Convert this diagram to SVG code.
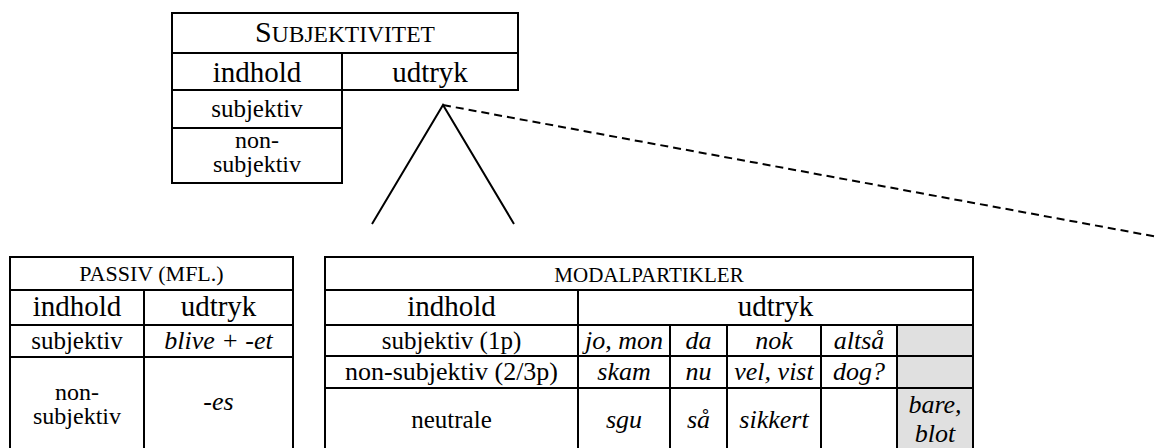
<svg xmlns="http://www.w3.org/2000/svg" width="1158" height="448" viewBox="0 0 1158 448">
<style>
.ln{stroke:#000;stroke-width:2;fill:none}
.t{font-family:"Liberation Serif","Times New Roman",serif;fill:#000;text-anchor:middle}
.big{font-size:29px}
.b{font-size:25px}
.w{font-size:24px}
.i{font-size:26px;font-style:italic}
.sc{font-size:21px}
.grey{fill:#e0e0e0}
</style>
<rect width="1158" height="448" fill="#fff"/>
<g id="subjektivitet">
<path class="ln" d="M172,13H518V90H172ZM172,53H518M342,53V183M172,90V183H342V90M172,128H342"/>
<text class="t" x="345" y="42"><tspan font-size="30">S</tspan><tspan font-size="23.5">UBJEKTIVITET</tspan></text>
<text class="t big" x="257" y="82">indhold</text>
<text class="t big" x="430" y="82">udtryk</text>
<text class="t b" x="257" y="117">subjektiv</text>
<text class="t w" x="257" y="148">non-</text>
<text class="t w" x="257" y="172">subjektiv</text>
</g>
<g id="connectors">
<path class="ln" d="M372,224L443,105L514,224"/>
<path class="ln" stroke-dasharray="8 5" d="M443,105L1158,237"/>
</g>
<g id="passiv">
<path class="ln" d="M10,449V257H293V449M10,290H293M10,325H293M10,357H293M144,290V449"/>
<text class="t" x="151.5" y="281" font-size="22">PASSIV (MFL.)</text>
<text class="t big" x="77" y="316">indhold</text>
<text class="t big" x="218.5" y="316">udtryk</text>
<text class="t b" x="77" y="349">subjektiv</text>
<text class="t i" x="218.5" y="349">blive + -et</text>
<text class="t w" x="77" y="400">non-</text>
<text class="t w" x="77" y="424">subjektiv</text>
<text class="t i" x="218.5" y="410">-es</text>
</g>
<g id="modalpartikler">
<rect class="grey" x="897" y="325" width="76" height="124"/>
<path class="ln" d="M325,449V257H973V449M325,290H973M325,325H973M325,356H973M325,388H973M578,290V449M670,325V449M727,325V449M821,325V449M897,325V449"/>
<text class="t sc" x="649" y="282">MODALPARTIKLER</text>
<text class="t big" x="451.5" y="316">indhold</text>
<text class="t big" x="775.5" y="316">udtryk</text>
<text class="t b" x="451.5" y="349">subjektiv (1p)</text>
<text class="t" x="451.5" y="380" font-size="26">non-subjektiv (2/3p)</text>
<text class="t b" x="451.5" y="428">neutrale</text>
<text class="t i" x="624" y="349">jo, mon</text>
<text class="t i" x="698.5" y="349">da</text>
<text class="t i" x="774" y="349">nok</text>
<text class="t i" x="859" y="349">altså</text>
<text class="t i" x="624" y="380">skam</text>
<text class="t i" x="698.5" y="380">nu</text>
<text class="t i" x="774" y="380">vel, vist</text>
<text class="t i" x="859" y="380">dog?</text>
<text class="t i" x="624" y="428">sgu</text>
<text class="t i" x="698.5" y="428">så</text>
<text class="t i" x="774" y="428">sikkert</text>
<text class="t i" x="935" y="413">bare,</text>
<text class="t i" x="935" y="442">blot</text>
</g>
</svg>
